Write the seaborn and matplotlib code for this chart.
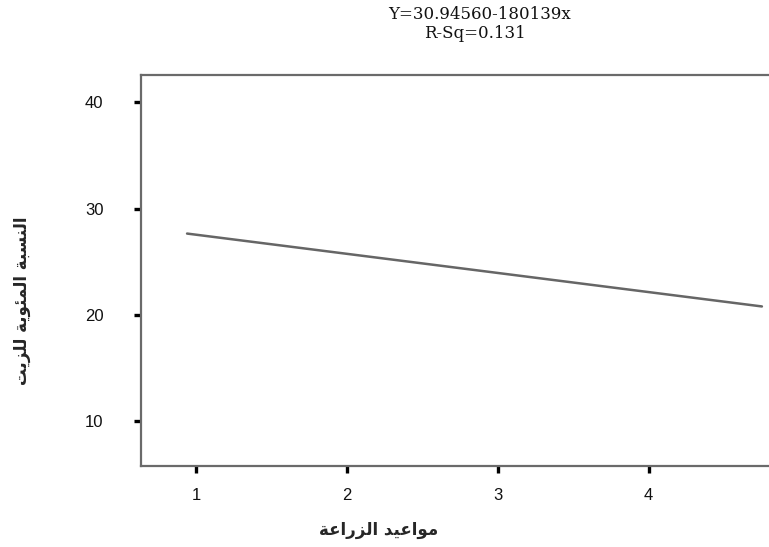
import matplotlib
matplotlib.use("Agg")
import matplotlib.pyplot as plt
import seaborn as sns
import pandas as pd

# data (fitted line end points)
x_vals = [0.94, 4.75]
y_vals = [27.65, 20.79]
x_ticks = [1, 2, 3, 4]
y_ticks = [10, 20, 30, 40]
eq_text = "Y=30.94560-180139x"
rsq_text = "R-Sq=0.131"
x_label = "مواعيد الزراعة"
y_label = "النسبة المئوية للزيت"

# minimal arabic shaping (matplotlib has no shaping / bidi)
FORMS = {
    "ا": ("\uFE8D", "\uFE8E", None, None),
    "ب": ("\uFE8F", "\uFE90", "\uFE91", "\uFE92"),
    "ة": ("\uFE93", "\uFE94", None, None),
    "ت": ("\uFE95", "\uFE96", "\uFE97", "\uFE98"),
    "د": ("\uFEA9", "\uFEAA", None, None),
    "ر": ("\uFEAD", "\uFEAE", None, None),
    "ز": ("\uFEAF", "\uFEB0", None, None),
    "س": ("\uFEB1", "\uFEB2", "\uFEB3", "\uFEB4"),
    "ع": ("\uFEC9", "\uFECA", "\uFECB", "\uFECC"),
    "ل": ("\uFEDD", "\uFEDE", "\uFEDF", "\uFEE0"),
    "م": ("\uFEE1", "\uFEE2", "\uFEE3", "\uFEE4"),
    "ن": ("\uFEE5", "\uFEE6", "\uFEE7", "\uFEE8"),
    "و": ("\uFEED", "\uFEEE", None, None),
    "ي": ("\uFEF1", "\uFEF2", "\uFEF3", "\uFEF4"),
    "ئ": ("\uFE89", "\uFE8A", "\uFE8B", "\uFE8C"),
}


def shape(text):
    out = []
    for word in text.split(" "):
        res = []
        for i, ch in enumerate(word):
            f = FORMS.get(ch)
            if f is None:
                res.append(ch)
                continue
            prev = FORMS.get(word[i - 1]) if i > 0 else None
            nxt = FORMS.get(word[i + 1]) if i + 1 < len(word) else None
            join_prev = prev is not None and prev[2] is not None
            join_next = nxt is not None and f[2] is not None
            if join_prev and join_next:
                res.append(f[3])
            elif join_prev:
                res.append(f[1])
            elif join_next:
                res.append(f[2])
            else:
                res.append(f[0])
        out.append("".join(res))
    return " ".join(out)[::-1]


df = pd.DataFrame({"x": x_vals, "y": y_vals})

sns.set_style("white")
plt.rcParams["font.family"] = ["Liberation Sans", "DejaVu Sans"]

fig = plt.figure(figsize=(7.69, 5.47), dpi=100)
ax = fig.add_axes([0.1834, 0.1486, 0.827, 0.7148])

sns.lineplot(data=df, x="x", y="y", ax=ax, color="#666666", linewidth=1.8)

ax.set_xlim(0.635, 4.85)
ax.set_ylim(5.8, 42.6)
ax.set_xticks(x_ticks)
ax.set_yticks(y_ticks)
ax.tick_params(axis="both", direction="out", length=5, width=2.4, color="black",
               labelsize=12, labelcolor="#111111", bottom=True, left=True)
ax.tick_params(axis="y", pad=22)
ax.tick_params(axis="x", pad=11)

for s in ax.spines.values():
    s.set_color("#6a6a6a")
    s.set_linewidth(1.6)
ax.spines["right"].set_visible(False)

ax.set_xlabel("")
ax.set_ylabel("")
fig.text(0.493, 0.031, shape(x_label), ha="center", va="center",
         fontsize=12, fontweight="bold", family=["DejaVu Sans"])
fig.text(0.029, 0.45, shape(y_label), ha="center", va="center", rotation=90,
         fontsize=12, fontweight="bold", family=["DejaVu Sans"])

fig.text(0.624, 0.974, eq_text, ha="center", va="center", fontsize=12,
         family=["DejaVu Serif"], color="#111111")
fig.text(0.617, 0.939, rsq_text, ha="center", va="center", fontsize=12,
         family=["DejaVu Serif"], color="#111111")

fig.savefig("out.png", dpi=100)
